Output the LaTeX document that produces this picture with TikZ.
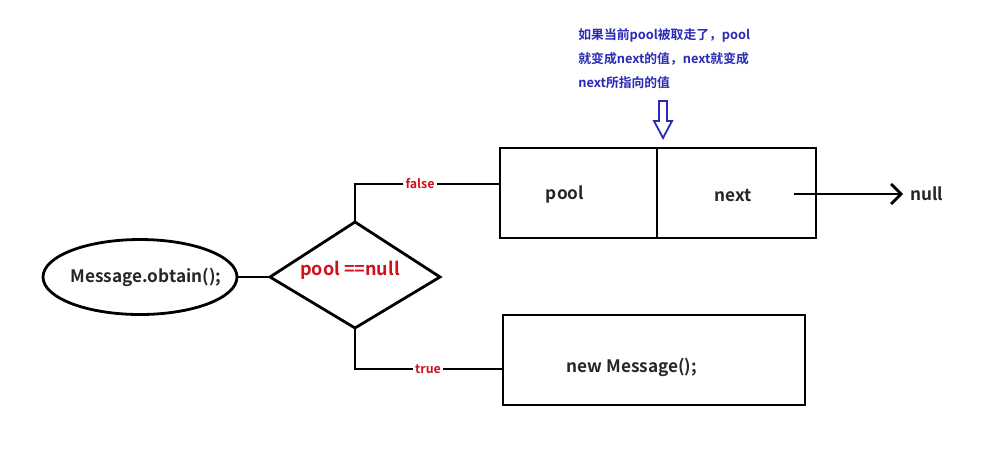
\documentclass[tikz,border=0pt]{standalone}
\usepackage{fontspec}
\setmainfont{Noto Sans CJK SC}[BoldFont={* Bold}]
\newfontfamily\cjk{Noto Sans CJK SC Bold}
\usetikzlibrary{shapes.geometric,arrows.meta}
\definecolor{lbl}{HTML}{D0101A}
\definecolor{note}{HTML}{2A2AB8}
\begin{document}
\begin{tikzpicture}[x=0.5pt,y=-0.5pt,
  line/.style={line width=1.4pt,black},
  main/.style={font=\cjk\fontsize{8.6}{10}\selectfont,text=black!85},
  redlbl/.style={font=\cjk\fontsize{6.2}{7}\selectfont,text=lbl,inner sep=1pt}]
\useasboundingbox[fill=white] (0,0) rectangle (1000,456);
% ellipse
\node[ellipse,draw,line width=1.4pt,inner sep=0,minimum width=97pt,minimum height=37.5pt] (start) at (140,277) {};
\node[main] (starttxt) at (146,277) {Message.obtain();};
% diamond
\coordinate (dl) at (270,277);
\coordinate (dt) at (355,222);
\coordinate (dr) at (440,277);
\coordinate (db) at (355,328);
\draw[line] (dl) -- (dt) -- (dr) -- (db) -- cycle;
\node[font=\cjk\fontsize{9}{10}\selectfont,text=lbl] (cond) at (350,270) {pool ==null};
\draw[line] (start.east) -- (dl);
% top box
\coordinate (tA) at (500,148);
\coordinate (tB) at (816,238);
\draw[line] (tA) rectangle (tB);
\coordinate (dv1) at (657,148);
\coordinate (dv2) at (657,238);
\draw[line] (dv1) -- (dv2);
\node[main] (pool) at (565,194) {pool};
\node[main] (next) at (733,195) {next};
\coordinate (arrS) at (794,194);
\node[main,anchor=west] (null) at (903,194) {null};
\draw[line,-{Straight Barb[length=5pt,width=10pt,line width=1.4pt]}] (arrS) -- (null.west);
% bottom box
\coordinate (bA) at (503,315);
\coordinate (bB) at (805,405);
\draw[line] (bA) rectangle (bB);
\node[main] (newm) at (632,367) {new Message();};
% false / true
\node[redlbl] (false) at (420,184) {false};
\node[redlbl] (true) at (428,369) {true};
\draw[line] (dt) |- (false.west);
\draw[line] (false.east) -- (500,184);
\draw[line] (db) |- (true.west);
\draw[line] (true.east) -- (503,369);
% note
\node[font=\cjk\fontsize{6.4}{12}\selectfont,text=note,anchor=north west,align=left,inner sep=0] (note) at (578,28) {如果当前pool被取走了，pool\\就变成next的值，next就变成\\next所指向的值};
% hollow arrow
\draw[note,line width=0.9pt,line join=miter] (659,101) -- (667,101) -- (667,121) -- (672,121) -- (663,138) -- (654,121) -- (659,121) -- cycle;
\end{tikzpicture}
\end{document}
